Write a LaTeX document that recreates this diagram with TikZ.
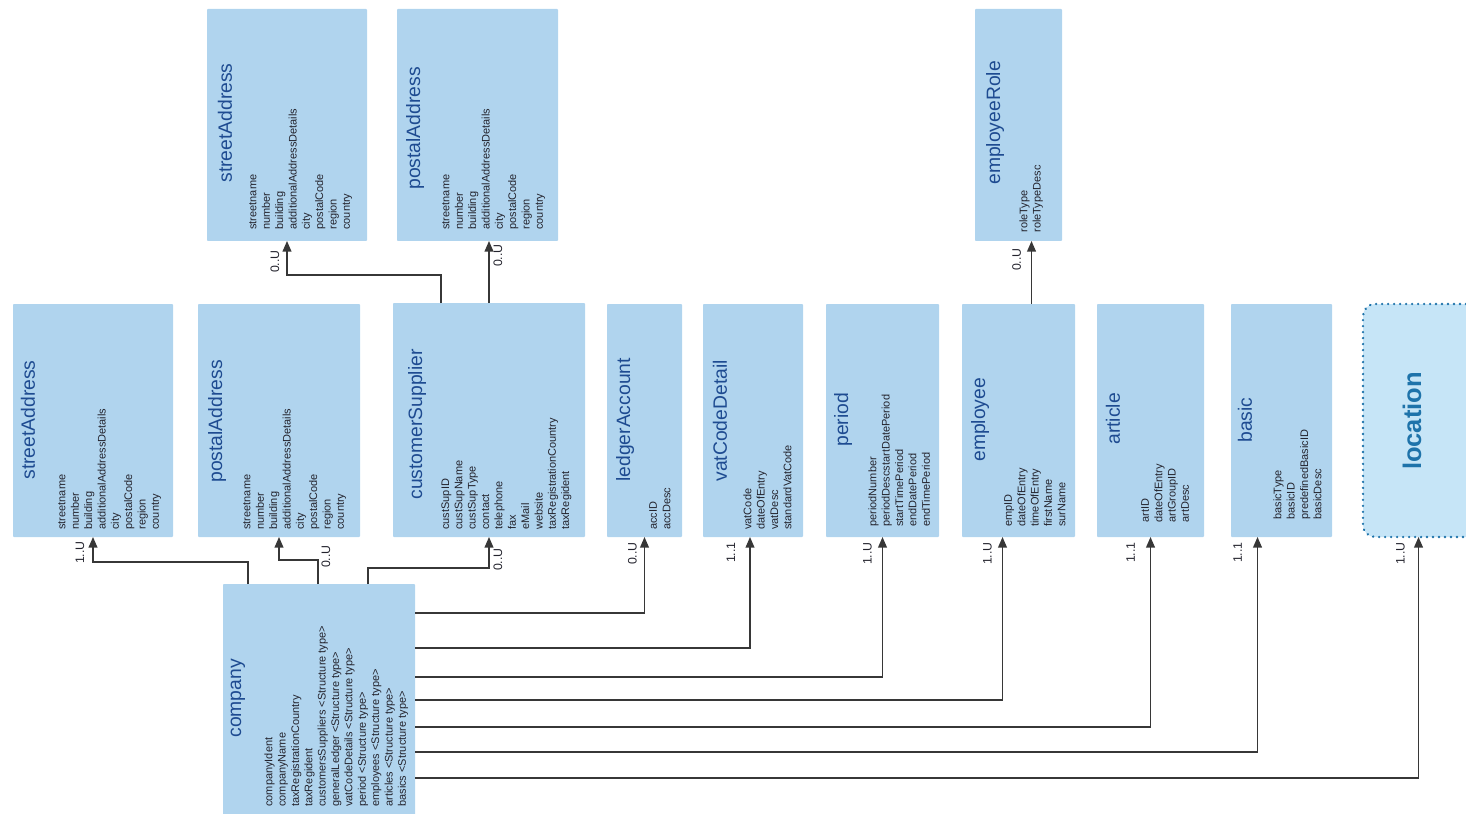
\documentclass[tikz,border=0pt]{standalone}
\usepackage{fontspec}
\setmainfont{Liberation Sans}
\usetikzlibrary{calc,fit,arrows.meta}
\definecolor{cbox}{RGB}{176,212,238}
\definecolor{ctitle}{RGB}{30,75,145}
\definecolor{ctext}{RGB}{35,35,45}
\definecolor{cline}{RGB}{55,55,55}
\definecolor{cloc}{RGB}{198,229,247}
\definecolor{clocdot}{RGB}{30,115,170}
\newcommand\addrfields{streetname\\number\\building\\additionalAddressDetails\\city\\postalCode\\region\\country}
% name, corners, title, title and fields positions, fields
\newcommand\entity[9]{%
  \node[entity,fit={(#2,#3) (#4,#5)}] (#1) {};
  \node[etitle] (#1-t) at #7 {#6};
  \node[efields] (#1-f) at #8 {#9};
}

\begin{document}
\begin{tikzpicture}[x=0.2mm,y=-0.2mm,
  entity/.style={fill=cbox,rounded corners=0.5pt,inner sep=0pt,outer sep=0pt},
  etitle/.style={rotate=90,anchor=west,inner sep=0pt,text=ctitle,font=\fontsize{11}{13}\selectfont},
  efields/.style={rotate=90,anchor=north west,inner sep=0pt,align=left,text=ctext,font=\fontsize{6.25}{7.6}\selectfont},
  locbox/.style={fill=cloc,draw=clocdot,line width=1.5pt,dash pattern=on 0.01pt off 3.4pt,line cap=round,rounded corners=2.4mm,inner sep=0pt,outer sep=0pt},
  link/.style={draw=cline,line width=0.75pt,-{Triangle[length=6pt,width=5pt]}},
  mult/.style={rotate=90,inner sep=0pt,text=ctext,font=\fontsize{7}{8}\selectfont}]

\useasboundingbox (0,0) rectangle (1466,814);

% entities
\entity{stT}{207}{9}{367}{241}{streetAddress}{(225,183)}{(249,230)}{\addrfields}
\entity{paT}{397}{9}{558}{241}{postalAddress}{(415,190)}{(442,230)}{\addrfields}
\entity{erT}{975}{9}{1062}{241}{employeeRole}{(995,185)}{(1019,233)}{roleType\\roleTypeDesc}
\entity{stM}{13}{304}{173}{537}{streetAddress}{(28,480)}{(58,530)}{\addrfields}
\entity{paM}{198}{304}{360}{537}{postalAddress}{(217,483)}{(243,530)}{\addrfields}
\entity{cs}{393}{303}{585}{537}{customerSupplier}{(417,500)}{(441,530)}{custSupID\\custSupName\\custSupType\\contact\\telephone\\fax\\eMail\\website\\taxRegistrationCountry\\taxRegident}
\entity{la}{607}{304}{682}{537}{ledgerAccount}{(625,482)}{(649,530)}{accID\\accDesc}
\entity{vcd}{703}{304}{803}{537}{vatCodeDetail}{(720,482)}{(743,530)}{vatCode\\dateOfEntry\\vatDesc\\standardVatCode}
\entity{per}{826}{304}{939}{537}{period}{(843,447)}{(868,527)}{periodNumber\\periodDescstartDatePeriod\\startTimePeriod\\endDatePeriod\\endTimePeriod}
\entity{emp}{962}{304}{1075}{537}{employee}{(980,462)}{(1004,527)}{empID\\dateOfEntry\\timeOfEntry\\firstName\\surName}
\entity{art}{1097}{304}{1204}{537}{article}{(1113,445)}{(1141,523)}{artID\\dateOfEntry\\artGroupID\\artDesc}
\entity{bas}{1231}{304}{1332}{537}{basic}{(1245,443)}{(1273,520)}{basicType\\basicID\\predefinedBasicID\\basicDesc}
\entity{comp}{223}{584}{415}{820}{company}{(238,738)}{(264,807)}{companyIdent\\companyName\\taxRegistrationCountry\\taxRegident\\customersSuppliers <Structure type>\\generalLedger <Structure type>\\vatCodeDetails <Structure type>\\period <Structure type>\\employees <Structure type>\\articles <Structure type>\\basics <Structure type>}

\node[locbox,fit={(1363,304) (1490,537)}] (loc) {};
\node[rotate=90,inner sep=0pt,text=clocdot,font=\fontsize{14.5}{16}\selectfont\bfseries] (loc-t) at (1412,421) {location};

% links from company
\draw[link] ($(comp.north west)+(25,0)$) |- ($(stM.south)+(0,25)$) -- (stM.south);
\draw[link] ($(comp.north west)+(95,0)$) |- ($(paM.south)+(0,23)$) -- (paM.south);
\draw[link] ($(comp.north west)+(145,0)$) |- ($(cs.south)+(0,31)$) -- (cs.south);
\node[mult,anchor=east] (m-stM) at ($(stM.south)+(-13,4)$) {1..U};
\node[mult,anchor=east] (m-paM) at ($(paM.south)+(47,8)$) {0..U};
\node[mult,anchor=east] (m-cs) at ($(cs.south)+(9,11)$) {0..U};

\foreach \dy/\dst/\dx/\lab/\lx in {29/la/0/{0..U}/-12, 64/vcd/-3/{1..1}/-19, 93/per/0/{1..U}/-15,
  116/emp/-16/{1..U}/-15, 143/art/0/{1..1}/-20, 168/bas/-24/{1..1}/-20, 194/loc/-8/{1..U}/-18}{
  \draw[link] ($(comp.north east)+(0,\dy)$) -| ($(\dst.south)+(\dx,0)$);
  \node[mult,anchor=east] (m-\dst) at ($(\dst.south)+(\dx+\lx,5)$) {\lab};
}

% links to the upper row
\draw[link] ($(cs.north west)+(48,0)$) |- ($(stT.south)+(0,34)$) -- (stT.south);
\draw[link] (cs.north) -- (cs.north |- paT.south);
\draw[link] ($(emp.north)+(13,0)$) coordinate (e1) -- (e1 |- erT.south);
\node[mult,anchor=east] (m-stT) at ($(stT.south)+(-12,9)$) {0..U};
\node[mult,anchor=east] (m-paT) at ($(cs.north |- paT.south)+(9,3)$) {0..U};
\node[mult,anchor=east] (m-erT) at ($(e1 |- erT.south)+(-15,7)$) {0..U};

\end{tikzpicture}
\end{document}
